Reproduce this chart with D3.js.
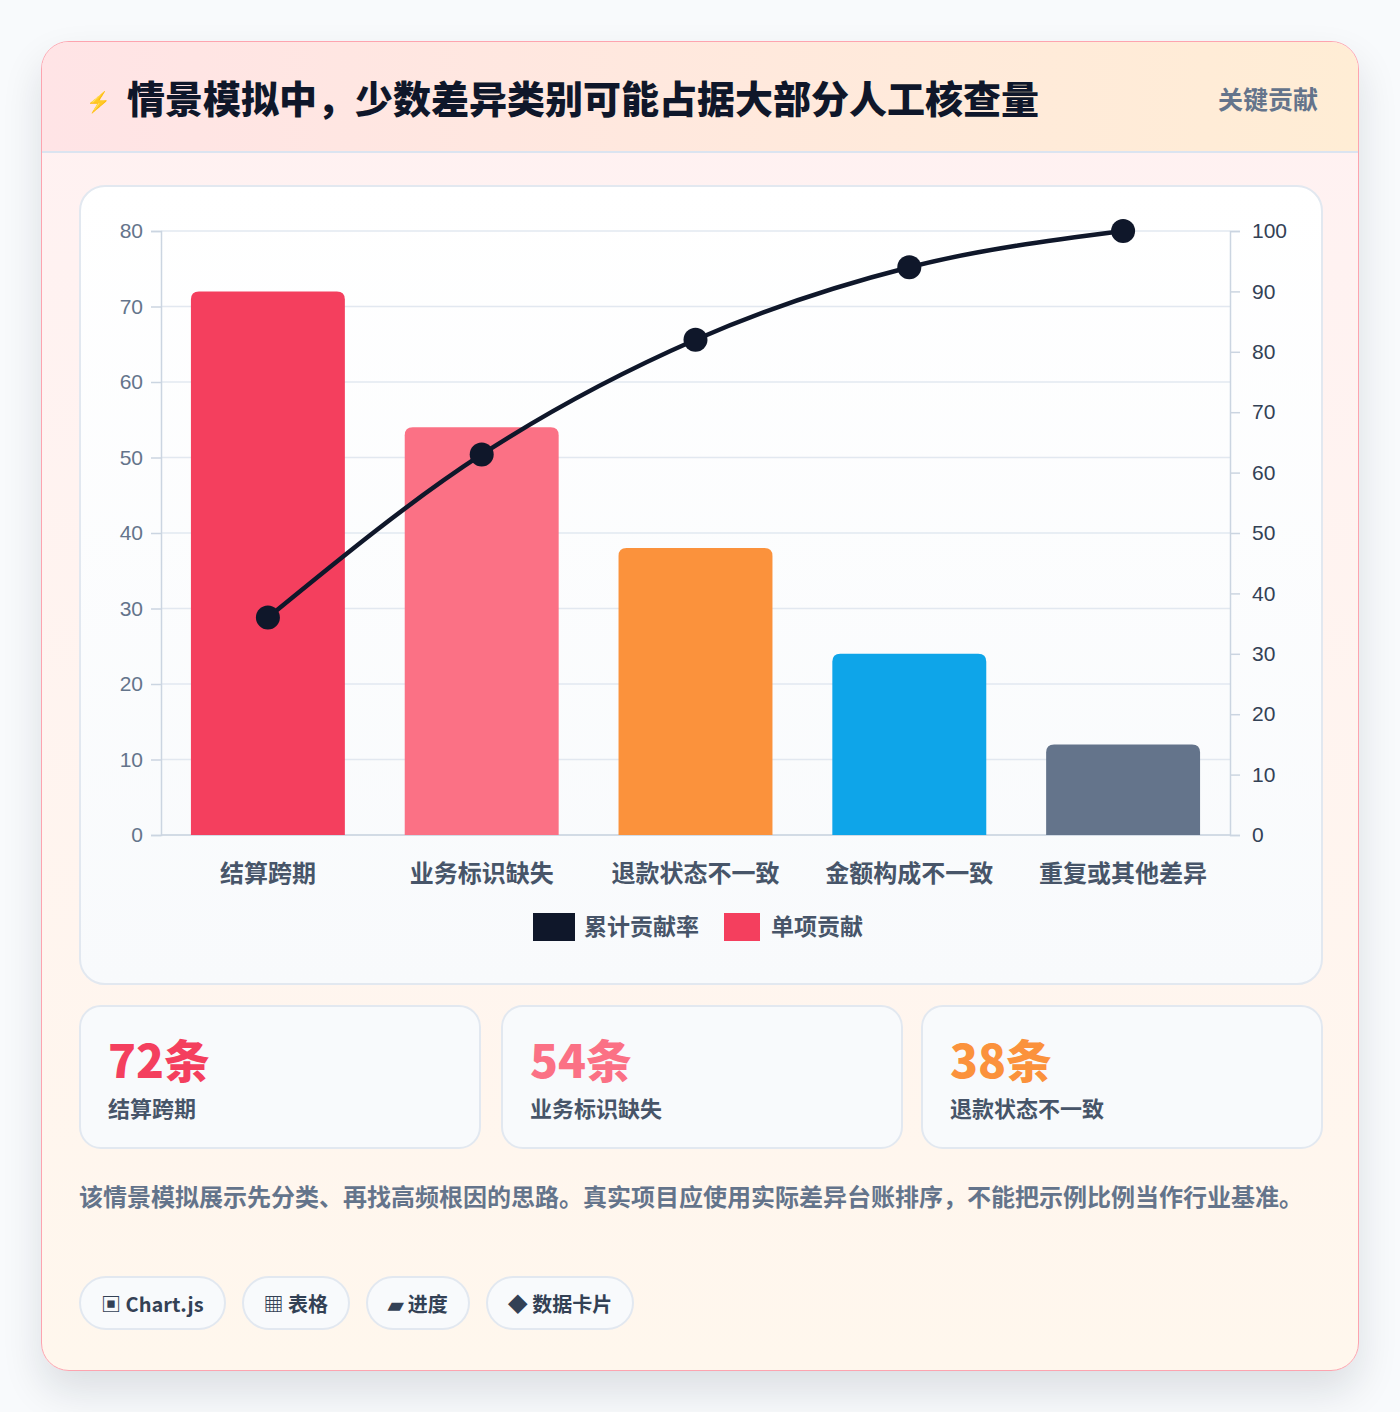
<!DOCTYPE html>
<html lang="zh">
<head>
<meta charset="UTF-8">
<title>Pareto</title>
<script src="https://d3js.org/d3.v7.min.js"></script>
<style>
	body { margin: 0; background: #f8fafc; font-family: "Noto Sans CJK SC", "Noto Sans", sans-serif; }
	#card { position: absolute; left: 41px; top: 41px; width: 1316px; height: 1328px; border: 1.5px solid #fda4af; border-radius: 28px; overflow: hidden;
		background: linear-gradient(180deg, #fff1f2 0%, #fff7ed 100%); box-shadow: 0 20px 40px rgba(15,23,42,0.12); }
	#head { position: absolute; left: 0; top: 0; width: 100%; height: 109px; border-bottom: 2px solid #dbe4f0;
		background: linear-gradient(90deg, #ffe4e6, #ffedd5); }
	#head .icon { position: absolute; left: 44px; top: 44px; color: #2563eb; font-size: 20px; }
	#head h1 { position: absolute; left: 85px; top: 27px; margin: 0; font-size: 38px; font-weight: 900; color: #0f172a; }
	#head .tag { position: absolute; right: 40px; top: 38px; font-size: 25px; font-weight: 700; color: #64748b; }
	#panel { position: absolute; left: 37px; top: 143px; width: 1240px; height: 796px; background: linear-gradient(180deg, #fff, #f8fafc);
		border: 2px solid #e2e8f0; border-radius: 26px; }
	#chart { position: absolute; left: 0; top: 0; }
	.stat { position: absolute; top: 963px; height: 140px; width: 398px; background: #f8fafc; border: 2px solid #e2e8f0; border-radius: 22px; }
	.stat .v { position: absolute; left: 27px; top: 18px; font-size: 46px; font-weight: 900; }
	.stat .l { position: absolute; left: 27px; top: 84px; font-size: 22px; font-weight: 700; color: #475569; }
	#note { position: absolute; left: 37px; top: 1132px; width: 1250px; font-size: 24px; font-weight: 700; color: #64748b; line-height: 43px; }
	#chips { position: absolute; left: 37px; top: 1234px; display: flex; gap: 16px; }
	.chip { height: 54px; padding: 0 20px; border: 2px solid #e2e8f0; border-radius: 28px; background: #f8fafc; font-size: 20px; font-weight: 700;
		color: #334155; display: flex; align-items: center; box-sizing: border-box; }
</style>
</head>
<body>
<div id="card">
	<div id="head"><span class="icon">⚡</span><h1>情景模拟中，少数差异类别可能占据大部分人工核查量</h1><span class="tag">关键贡献</span></div>
	<div id="panel"><svg id="chart" width="1240" height="796"></svg></div>
	<div id="stats"></div>
	<div id="note">该情景模拟展示先分类、再找高频根因的思路。真实项目应使用实际差异台账排序，不能把示例比例当作行业基准。</div>
	<div id="chips"></div>
</div>
<script>
	const categories = ["结算跨期", "业务标识缺失", "退款状态不一致", "金额构成不一致", "重复或其他差异"]
	const counts = [72, 54, 38, 24, 12]
	const cumulative = [36, 63, 82, 94, 100]
	const barColors = ["#f43f5e", "#fb7185", "#fb923c", "#0ea5e9", "#64748b"]
	const leftTicks = [0, 10, 20, 30, 40, 50, 60, 70, 80]
	const rightTicks = [0, 10, 20, 30, 40, 50, 60, 70, 80, 90, 100]
	const stats = [["72条", "结算跨期", "#f43f5e"], ["54条", "业务标识缺失", "#fb7185"], ["38条", "退款状态不一致", "#fb923c"]]
	const chips = ["▣ Chart.js", "▦ 表格", "▰ 进度", "◆ 数据卡片"]

	// panel origin is (79,185) in page coords
	const svg = d3.select("#chart")
	const x0 = 80, x1 = 1149, yTop = 44, yBot = 648
	const x = d3.scaleBand().domain(categories).range([x0, x1]).paddingInner(0.28).paddingOuter(0.14)
	const yL = d3.scaleLinear().domain([0, 80]).range([yBot, yTop])
	const yR = d3.scaleLinear().domain([0, 100]).range([yBot, yTop])

	svg.append("g").selectAll("line").data(leftTicks).join("line")
		.attr("x1", x0).attr("x2", x1).attr("y1", d => yL(d)).attr("y2", d => yL(d))
		.attr("stroke", "#e2e8f0").attr("stroke-width", 1.5)

	const axL = svg.append("g").attr("transform", `translate(${x0},0)`)
		.call(d3.axisLeft(yL).tickValues(leftTicks).tickSize(10).tickPadding(8))
	const axR = svg.append("g").attr("transform", `translate(${x1},0)`)
		.call(d3.axisRight(yR).tickValues(rightTicks).tickSize(10).tickPadding(12))
	for (const ax of [axL, axR]) {
		ax.selectAll("path, line").attr("stroke", "#cbd5e1").attr("stroke-width", 1.5)
		ax.selectAll("text").attr("font-size", 21).attr("fill", "#64748b").attr("font-family", "Liberation Sans, Arial")
	}
	axR.selectAll("text").attr("fill", "#334155")
	svg.append("line").attr("x1", x0).attr("x2", x1).attr("y1", yBot).attr("y2", yBot).attr("stroke", "#cbd5e1").attr("stroke-width", 1.5)

	const r = 8
	svg.append("g").selectAll("path").data(counts).join("path")
		.attr("fill", (d, i) => barColors[i])
		.attr("d", (d, i) => {
			const bx = x(categories[i]), w = x.bandwidth(), top = yL(d)
			return `M${bx},${yBot}V${top + r}Q${bx},${top} ${bx + r},${top}H${bx + w - r}Q${bx + w},${top} ${bx + w},${top + r}V${yBot}Z`
		})

	const cx = i => x(categories[i]) + x.bandwidth() / 2
	svg.append("path").datum(cumulative)
		.attr("fill", "none").attr("stroke", "#0f172a").attr("stroke-width", 4.5)
		.attr("d", d3.line().x((d, i) => cx(i)).y(d => yR(d)).curve(d3.curveMonotoneX))
	svg.append("g").selectAll("circle").data(cumulative).join("circle")
		.attr("cx", (d, i) => cx(i)).attr("cy", d => yR(d)).attr("r", 12).attr("fill", "#0f172a")

	svg.append("g").selectAll("text").data(categories).join("text")
		.attr("x", d => x(d) + x.bandwidth() / 2).attr("y", 695).attr("text-anchor", "middle")
		.attr("font-size", 24).attr("font-weight", 700).attr("fill", "#475569").text(d => d)

	const legend = [["累计贡献率", "#0f172a", 452], ["单项贡献", "#f43f5e", 643]]
	const lg = svg.append("g").selectAll("g").data(legend).join("g").attr("transform", d => `translate(${d[2]},726)`)
	lg.append("rect").attr("width", d => d[0].length > 4 ? 42 : 36).attr("height", 28).attr("fill", d => d[1])
	lg.append("text").attr("x", d => d[0].length > 4 ? 51 : 47).attr("y", 22).attr("font-size", 23).attr("font-weight", 700)
		.attr("fill", "#475569").text(d => d[0])

	const lefts = [37, 459, 879]
	d3.select("#stats").selectAll("div").data(stats).join("div").attr("class", "stat")
		.style("left", (d, i) => lefts[i] + "px")
		.html(d => `<div class="v" style="color:${d[2]}">${d[0]}</div><div class="l">${d[1]}</div>`)
	d3.select("#chips").selectAll("div").data(chips).join("div").attr("class", "chip").text(d => d)
</script>
</body>
</html>
